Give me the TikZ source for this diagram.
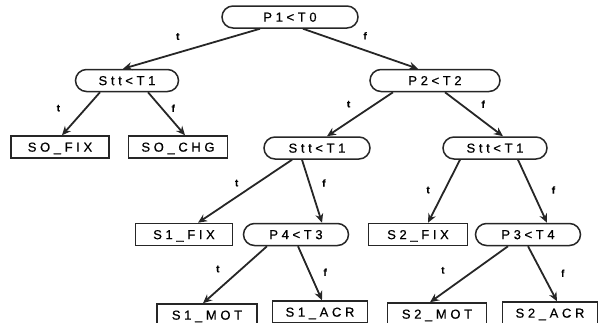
\documentclass[tikz,border=0pt]{standalone}
\usepackage{fontspec}
\setmainfont{Liberation Sans}[FakeBold=0.6]
\newfontfamily\boxfont[LetterSpace=28,FakeBold=0.6]{Liberation Sans}
\usetikzlibrary{arrows.meta,positioning}

\begin{document}
\begin{tikzpicture}[every node/.style={inner sep=0pt},
test/.style={draw,rounded corners=11pt,minimum height=22pt,minimum width=105pt,text height=9.3pt,text depth=0pt,font=\boxfont\fontsize{13}{13}\selectfont,line width=1.5pt,draw=black!85},
leaf/.style={draw,minimum height=22pt,minimum width=98pt,text height=9.3pt,text depth=0pt,font=\boxfont\fontsize{13}{13}\selectfont,line width=1.5pt,draw=black!85},
lbl/.style={font=\bfseries\fontsize{10}{10}\selectfont},
arrow/.style={-{Stealth[length=9pt,width=8pt]},line width=1.8pt,draw=black!85}]
\useasboundingbox (0,0) rectangle (598pt,-322pt);
\node[test,minimum width=136pt] (p1t0) at (290pt,-17pt) {P1<T0};
\node[test,minimum width=103pt,below=40pt of p1t0,xshift=-163pt] (stt1a) {Stt<T1};
\node[test,minimum width=130pt,below=40pt of p1t0,xshift=145pt] (p2t2) {P2<T2};
\node[leaf,below=43pt of stt1a,xshift=-67pt] (s0fix) {SO\_FIX};
\node[leaf,minimum width=99pt,below=43pt of stt1a,xshift=51pt] (s0chg) {SO\_CHG};
\node[test,minimum width=106pt,below=44pt of p2t2,xshift=-118pt] (stt1b) {Stt<T1};
\node[test,minimum width=104pt,below=44pt of p2t2,xshift=60pt] (stt1c) {Stt<T1};
\node[leaf,minimum width=97pt,below=63pt of stt1b,xshift=-133pt] (s1fix) {S1\_FIX};
\node[test,below=63pt of stt1b,xshift=-21pt] (p4t3) {P4<T3};
\node[leaf,minimum width=99pt,below=63pt of stt1c,xshift=-77pt] (s2fix) {S2\_FIX};
\node[test,below=63pt of stt1c,xshift=33pt] (p3t4) {P3<T4};
\node[leaf,minimum width=100pt,below=57pt of p4t3,xshift=-89pt] (s1mot) {S1\_MOT};
\node[leaf,minimum width=95pt,below=54pt of p4t3,xshift=24pt] (s1acr) {S1\_ACR};
\node[leaf,minimum width=99pt,below=56pt of p3t4,xshift=-91pt] (s2mot) {S2\_MOT};
\node[leaf,minimum width=95pt,below=55pt of p3t4,xshift=22pt] (s2acr) {S2\_ACR};
% root
\draw[arrow] ([xshift=-30pt]p1t0.south) -- node[lbl,pos=.6,above=12pt] {t} ([xshift=-4pt]stt1a.north);
\draw[arrow] ([xshift=13pt]p1t0.south) -- node[lbl,pos=.54,above=10pt] {f} ([xshift=-17pt]p2t2.north);
% level 1
\draw[arrow] ([xshift=-27pt]stt1a.south) -- node[lbl,pos=.37,left=25pt] {t} ([xshift=2pt]s0fix.north);
\draw[arrow] ([xshift=21pt]stt1a.south) -- node[lbl,pos=.37,right=9pt] {f} ([xshift=7pt]s0chg.north);
\draw[arrow] ([xshift=-42pt]p2t2.south) -- node[lbl,pos=.27,left=24pt] {t} ([xshift=10pt]stt1b.north);
\draw[arrow] ([xshift=10pt]p2t2.south) -- node[lbl,pos=.27,right=20pt] {f} ([xshift=8pt]stt1c.north);
% level 2
\draw[arrow] ([xshift=-25pt]stt1b.south) -- node[lbl,pos=.37,left=18pt] {t} ([xshift=14pt]s1fix.north);
\draw[arrow] ([xshift=-15pt]stt1b.south) -- node[lbl,pos=.37,right=12pt] {f} ([xshift=26pt]p4t3.north);
\draw[arrow] ([xshift=-35pt]stt1c.south) -- node[lbl,pos=.48,left=14pt] {t} ([xshift=10pt]s2fix.north);
\draw[arrow] ([xshift=23pt]stt1c.south) -- node[lbl,pos=.48,right=19pt] {f} ([xshift=19pt]p3t4.north);
% level 3
\draw[arrow] ([xshift=-29pt]p4t3.south) -- node[lbl,pos=.4,left=21pt] {t} ([xshift=-4pt]s1mot.north);
\draw[arrow] ([xshift=2pt]p4t3.south) -- node[lbl,pos=.48,right=13pt] {f} ([xshift=2pt]s1acr.north);
\draw[arrow] ([xshift=-20pt]p3t4.south) -- node[lbl,pos=.43,left=29pt] {t} ([xshift=-7pt]s2mot.north);
\draw[arrow] (p3t4.south) -- node[lbl,pos=.49,right=18pt] {f} ([xshift=7pt]s2acr.north);
\end{tikzpicture}
\end{document}
